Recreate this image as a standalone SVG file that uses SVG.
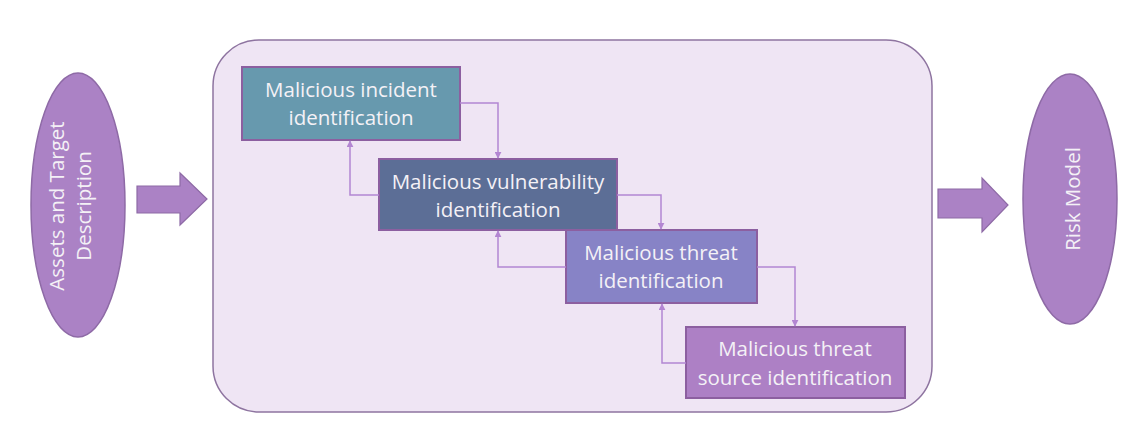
<svg xmlns="http://www.w3.org/2000/svg" width="1136" height="443" viewBox="0 0 1136 443">
<defs>
<style>
.t{font-family:"Open Sans","Liberation Sans",Arial,sans-serif;font-size:20.5px;fill:#F4F1F6;text-anchor:middle}
.ell{fill:#AB82C5;stroke:#8E6AA6;stroke-width:1.5}
.bigarrow{fill:#AB82C5;stroke:#8E6AA6;stroke-width:1.2}
.box{stroke:#8C5FA0;stroke-width:2}
.conn{fill:none;stroke:#B386D2;stroke-width:1.5}
</style>
<marker id="ah" viewBox="0 0 10 10" refX="9" refY="5" markerWidth="7" markerHeight="7" markerUnits="userSpaceOnUse" orient="auto">
<path d="M0,0 L10,5 L0,10 z" fill="#B386D2"/>
</marker>
</defs>
<rect width="1136" height="443" fill="#FFFFFF"/>
<g id="container">
<rect x="213" y="40" width="719" height="372" rx="46" ry="46" fill="#EFE5F4" stroke="#8E74A0" stroke-width="1.5"/>
</g>
<g id="assets">
<ellipse class="ell" cx="78" cy="205" rx="47" ry="132"/>
<text class="t" transform="translate(57,206) rotate(-90)" y="7">Assets and Target</text>
<text class="t" transform="translate(84,206) rotate(-90)" y="7">Description</text>
</g>
<g id="risk">
<ellipse class="ell" cx="1070" cy="199" rx="47" ry="125"/>
<text class="t" transform="translate(1073,199) rotate(-90)" y="7">Risk Model</text>
</g>
<g id="arrow-in">
<path class="bigarrow" d="M137,186 L180,186 L180,173 L207,199 L180,225 L180,213 L137,213 Z"/>
</g>
<g id="arrow-out">
<path class="bigarrow" d="M938,189 L982,189 L982,178 L1008,205 L982,232 L982,218 L938,218 Z"/>
</g>
<g id="box1">
<rect class="box" x="242" y="67" width="218" height="73" fill="#6799AE"/>
<text class="t" x="351" y="97">Malicious incident</text>
<text class="t" x="351" y="125">identification</text>
</g>
<g id="box2">
<rect class="box" x="379" y="159" width="238" height="71" fill="#5C6E96"/>
<text class="t" x="498" y="189">Malicious vulnerability</text>
<text class="t" x="498" y="217">identification</text>
</g>
<g id="box3">
<rect class="box" x="566" y="230" width="191" height="73" fill="#8783C6"/>
<text class="t" x="661" y="260">Malicious threat</text>
<text class="t" x="661" y="288">identification</text>
</g>
<g id="box4">
<rect class="box" x="686" y="327" width="219" height="71" fill="#AD80C5"/>
<text class="t" x="795" y="356">Malicious threat</text>
<text class="t" x="795" y="385">source identification</text>
</g>
<g id="connectors">
<path class="conn" marker-end="url(#ah)" d="M460,103 L498,103 L498,158"/>
<path class="conn" marker-end="url(#ah)" d="M379,195 L350,195 L350,141"/>
<path class="conn" marker-end="url(#ah)" d="M617,195 L661,195 L661,229"/>
<path class="conn" marker-end="url(#ah)" d="M566,267 L498,267 L498,231"/>
<path class="conn" marker-end="url(#ah)" d="M757,267 L795,267 L795,326"/>
<path class="conn" marker-end="url(#ah)" d="M686,363 L662,363 L662,304"/>
</g>
</svg>
